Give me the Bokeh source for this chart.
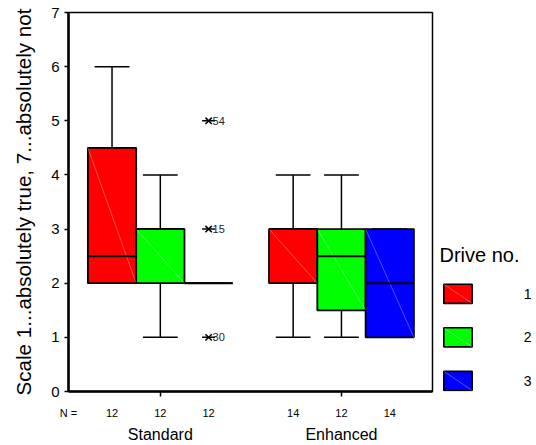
from bokeh.plotting import figure
from bokeh.layouts import row
from bokeh.models import (Range1d, FixedTicker, CustomJSTickFormatter, LinearAxis,
                          ColumnDataSource)
from bokeh.core.properties import value
from bokeh.embed import file_html
from bokeh.resources import INLINE

# ---------------- data ----------------
groups = ["Standard", "Enhanced"]
drives = ["1", "2", "3"]
drive_colors = ["#FF0000", "#00FF00", "#0000FF"]
# per group, per drive (Standard 1,2,3 then Enhanced 1,2,3)
n_values = [12, 12, 12, 14, 12, 14]
q1 = [2.0, 2.0, 2.0, 2.0, 1.5, 1.0]
median = [2.5, 3.0, 2.0, 3.0, 2.5, 2.0]
q3 = [4.5, 3.0, 2.0, 3.0, 3.0, 3.0]
whisk_lo = [2.0, 1.0, 2.0, 1.0, 1.0, 1.0]
whisk_hi = [6.0, 4.0, 2.0, 4.0, 4.0, 3.0]
# extreme values (Standard, drive 3)
out_box = [2, 2, 2]
out_vals = [5.0, 3.0, 1.0]
out_case = ["54", "15", "30"]
y_ticks = [0, 1, 2, 3, 4, 5, 6, 7]
y_label = "Scale 1...absolutely true, 7...absolutely not"
legend_title = "Drive no."
n_prefix = "N ="

FONT = "Liberation Sans"

# ---------------- layout of categories ----------------
group_step = 3.75
xpos = [gi * group_step + di + 1 for gi in range(len(groups)) for di in range(len(drives))]
group_centers = [gi * group_step + 2 for gi in range(len(groups))]
box_w = 1.0
cap_w = 0.72
x_start, x_end = 0.099, 7.635
y_start, y_end = 0, 7

H = 445
MAIN_W, LEG_W = 434, 102
MB_L, MB_R, MB_T, MB_B = 68, 2, 12, 50

p = figure(width=MAIN_W, height=H, x_range=Range1d(x_start, x_end), y_range=Range1d(y_start, y_end),
           output_backend="svg", toolbar_location=None,
           min_border_left=MB_L, min_border_right=MB_R, min_border_top=MB_T, min_border_bottom=MB_B)
p.grid.visible = False
p.outline_line_color = "black"
p.outline_line_width = 1.5
p.background_fill_color = "white"
p.border_fill_color = "white"

# whiskers
wx, wy0, wy1 = [], [], []
cx0, cx1, cy = [], [], []
for i, x in enumerate(xpos):
    wx += [x, x]
    wy0 += [q3[i], q1[i]]
    wy1 += [whisk_hi[i], whisk_lo[i]]
    cx0 += [x - cap_w / 2, x - cap_w / 2]
    cx1 += [x + cap_w / 2, x + cap_w / 2]
    cy += [whisk_hi[i], whisk_lo[i]]
p.segment(x0=wx, y0=wy0, x1=wx, y1=wy1, line_color="black", line_width=1.5)
p.segment(x0=cx0, y0=cy, x1=cx1, y1=cy, line_color="black", line_width=1.5)

# boxes per drive
for di, d in enumerate(drives):
    idx = [gi * len(drives) + di for gi in range(len(groups))]
    src = ColumnDataSource(dict(x=[xpos[i] for i in idx], top=[q3[i] for i in idx],
                                bottom=[q1[i] for i in idx]))
    p.vbar(x="x", top="top", bottom="bottom", width=box_w, source=src,
           fill_color=drive_colors[di], line_color="black", line_width=1.8)

# faint diagonals inside boxes
p.segment(x0=[x - box_w / 2 for x in xpos], y0=q3, x1=[x + box_w / 2 for x in xpos], y1=q1,
          line_color="white", line_alpha=0.4, line_width=0.8)

# medians
p.segment(x0=[x - box_w / 2 for x in xpos], y0=median, x1=[x + box_w / 2 for x in xpos], y1=median,
          line_color="black", line_width=2)

# extremes
ox = [xpos[i] for i in out_box]
p.scatter(x=ox, y=out_vals, marker="x", size=9, line_color="black", line_width=1.5)
p.scatter(x=ox, y=out_vals, marker="dash", size=13, line_color="black", line_width=1.5)
p.text(x=ox, y=out_vals, text=out_case, x_offset=4, text_baseline="middle",
       text_font=value(FONT), text_font_size="11px", text_color="#222222")

# y axis
yax = p.yaxis[0]
yax.ticker = FixedTicker(ticks=y_ticks)
yax.axis_label = y_label
yax.axis_label_text_font = FONT
yax.axis_label_text_font_style = "normal"
yax.axis_label_text_font_size = "20.6px"
yax.axis_label_text_color = "black"
yax.axis_label_standoff = 13
yax.major_label_text_font = FONT
yax.major_label_text_font_size = "15px"
yax.major_label_text_color = "black"
yax.major_tick_out = 4
yax.major_tick_in = 0
yax.major_tick_line_width = 1.5
yax.minor_tick_line_color = None
yax.axis_line_width = 2.5
yax.major_label_standoff = 5

# x axis: N values, ticks only at group centres (minor ticks)
xticks = [x_start + 0.001] + xpos
xlabels = [n_prefix] + [str(n) for n in n_values]
xax = p.xaxis[0]
xax.ticker = FixedTicker(ticks=xticks, minor_ticks=group_centers)
xax.formatter = CustomJSTickFormatter(args=dict(tk=xticks, lb=xlabels),
                                      code="const i = tk.indexOf(tick); return i >= 0 ? lb[i] : '';")
xax.major_tick_out = 0
xax.major_tick_in = 0
xax.minor_tick_out = 5
xax.minor_tick_in = 0
xax.minor_tick_line_width = 1.5
xax.axis_line_width = 2.5
xax.major_label_text_font = FONT
xax.major_label_text_font_size = "11px"
xax.major_label_text_color = "black"
xax.major_label_standoff = 10

# group labels as a second axis below
gax = LinearAxis(ticker=FixedTicker(ticks=group_centers, minor_ticks=[]),
                 formatter=CustomJSTickFormatter(args=dict(tk=group_centers, lb=groups),
                                                 code="const i = tk.indexOf(tick); return i >= 0 ? lb[i] : '';"))
gax.axis_line_color = None
gax.major_tick_line_color = None
gax.minor_tick_line_color = None
gax.major_tick_out = 0
gax.major_tick_in = 0
gax.major_label_standoff = 4
gax.major_label_text_font = FONT
gax.major_label_text_font_size = "16px"
gax.major_label_text_color = "black"
p.add_layout(gax, "below")

# ---------------- legend panel (page-pixel layout; its frame aligns with the main frame) ----------------
lg = figure(width=LEG_W, height=H, x_range=Range1d(0, LEG_W), y_range=Range1d(H - MB_B, MB_T),
            output_backend="svg", toolbar_location=None,
            min_border_left=0, min_border_right=0, min_border_top=MB_T, min_border_bottom=MB_B)
lg.axis.visible = False
lg.grid.visible = False
lg.outline_line_color = None
lg.background_fill_color = "white"
lg.border_fill_color = "white"

sw_x, sw_w, sw_h = 23.5, 28.4, 19.3
sw_y0, sw_pitch = 296.3, 44.0
sw_ys = [sw_y0 + k * sw_pitch for k in range(len(drives))]
lg.rect(x=[sw_x] * len(drives), y=sw_ys, width=sw_w, height=sw_h,
        fill_color=drive_colors, line_color="black", line_width=1.6)
lg.segment(x0=[sw_x - sw_w / 2] * len(drives), y0=[y - sw_h / 2 for y in sw_ys],
           x1=[sw_x + sw_w / 2] * len(drives), y1=[y + sw_h / 2 for y in sw_ys],
           line_color="white", line_alpha=0.4, line_width=0.8)
lg.text(x=[89.3] * len(drives), y=sw_ys, text=drives, text_baseline="middle",
        text_font=value(FONT), text_font_size="14px", text_color="black")
lg.text(x=[5], y=[257.3], text=[legend_title], text_baseline="alphabetic",
        text_font=value(FONT), text_font_size="20px", text_color="black")

layout = row(p, lg, spacing=0)
open("out.html", "w").write(file_html(layout, INLINE))
